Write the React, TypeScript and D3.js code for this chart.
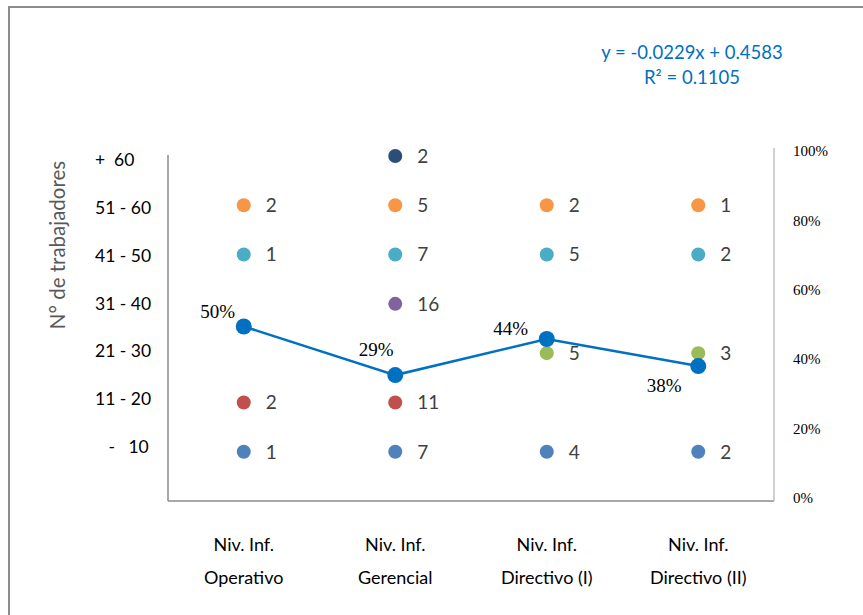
import React from "react";
import * as d3 from "d3";

const categories = ["Niv. Inf.|Operativo", "Niv. Inf.|Gerencial", "Niv. Inf.|Directivo (I)", "Niv. Inf.|Directivo (II)"];
const rowLabels = ["   -   10", "11 - 20", "21 - 30", "31 - 40", "41 - 50", "51 - 60", "+  60"];
const rowColors = ["#4f81bd", "#c0504d", "#9bbb59", "#8064a2", "#4bacc6", "#f79646", "#2c4d75"];
// counts per row (index = row), per category; null = no point
const countsOperativo = [1, 2, null, null, 1, 2, null];
const countsGerencial = [7, 11, null, 16, 7, 5, 2];
const countsDirectivoI = [4, null, 5, null, 5, 2, null];
const countsDirectivoII = [2, null, 3, null, 2, 1, null];
const counts = [countsOperativo, countsGerencial, countsDirectivoI, countsDirectivoII];
const pctValues = [0.5, 0.36, 0.464, 0.386];
const pctLabels = ["50%", "29%", "44%", "38%"];
const rightTicks = [0, 0.2, 0.4, 0.6, 0.8, 1];
const trendText = ["y = -0.0229x + 0.4583", "R² = 0.1105"];
const yTitle = "N° de trabajadores";

export default function App() {
  const W = 863, H = 615;
  const left = 168, right = 774, bottom = 501;
  const x = d3.scaleBand<number>().domain(d3.range(categories.length)).range([left, right]);
  const cx = (i: number) => (x(i) as number) + x.bandwidth() / 2;
  const yL = d3.scaleLinear().domain([0, 7]).range([bottom, 156]);
  const yLab = d3.scaleLinear().domain([0, 6]).range([447, 160]);
  const yR = d3.scaleLinear().domain([0, 1]).range([500, 153]);
  const line = d3.line<number>().x((_, i) => cx(i)).y((d) => yR(d));
  const sans = "Lato, 'Open Sans', sans-serif";
  const serif = "'Liberation Serif', 'Times New Roman', serif";
  const labelOffsets: [number, number][] = [[-26, -15], [-19, -26], [-36, -11], [-34, 19]];

  return (
    <svg width={W} height={H} style={{ position: "absolute", left: 0, top: 0, background: "#fff" }}>
      <rect x={9} y={7} width={W + 20} height={H + 20} fill="#fff" stroke="#8c8c8c" strokeWidth={2} />
      {/* axes */}
      <line x1={left} x2={left} y1={155} y2={bottom} stroke="#8c8c8c" strokeWidth={1.5} />
      <line x1={left} x2={right} y1={bottom} y2={bottom} stroke="#8c8c8c" strokeWidth={1.5} />
      <line x1={right} x2={right} y1={148} y2={bottom} stroke="#c0c0c0" strokeWidth={1.5} />
      {/* left tick labels */}
      {rowLabels.map((t, r) => (
        <text key={t} x={95} y={yLab(r)} dy="0.35em" fontFamily={sans} fontSize={17.5} fill="#000" style={{ whiteSpace: "pre" }} xmlSpace="preserve">
          {t}
        </text>
      ))}
      {/* right tick labels */}
      {rightTicks.map((t) => (
        <text key={t} x={793} y={yR(t) - 2} dy="0.35em" fontFamily={serif} fontSize={15} fill="#000">
          {d3.format(".0%")(t)}
        </text>
      ))}
      {/* y title */}
      <text transform={`translate(${65},${245}) rotate(-90)`} textAnchor="middle" fontFamily={sans} fontSize={20.5} fill="#595959">
        {yTitle}
      </text>
      {/* scatter points */}
      {counts.map((col, ci) =>
        col.map((v, r) =>
          v == null ? null : (
            <g key={`${ci}-${r}`}>
              <circle cx={cx(ci)} cy={yL(r + 1)} r={7} fill={rowColors[r]} />
              <text x={cx(ci) + 22} y={yL(r + 1)} dy="0.36em" fontFamily={sans} fontSize={19} fill="#404040">
                {v}
              </text>
            </g>
          )
        )
      )}
      {/* line */}
      <path d={line(pctValues) as string} fill="none" stroke="#0070c0" strokeWidth={2.5} />
      {pctValues.map((v, i) => (
        <circle key={i} cx={cx(i)} cy={yR(v)} r={8} fill="#0070c0" />
      ))}
      {pctValues.map((v, i) => (
        <text key={i} x={cx(i) + labelOffsets[i][0]} y={yR(v) + labelOffsets[i][1]} dy="0.35em" textAnchor="middle" fontFamily={serif} fontSize={19} fill="#000">
          {pctLabels[i]}
        </text>
      ))}
      {/* x labels */}
      {categories.map((c, i) =>
        c.split("|").map((l, k) => (
          <text key={`${i}-${k}`} x={cx(i)} y={545 + k * 33} dy="0.35em" textAnchor="middle" fontFamily={sans} fontSize={18} fill="#000">
            {l}
          </text>
        ))
      )}
      {/* trendline equation */}
      {trendText.map((t, k) => (
        <text key={k} x={692} y={53 + k * 25} dy="0.35em" textAnchor="middle" fontFamily={sans} fontSize={18.5} fill="#0070c0">
          {t}
        </text>
      ))}
    </svg>
  );
}
